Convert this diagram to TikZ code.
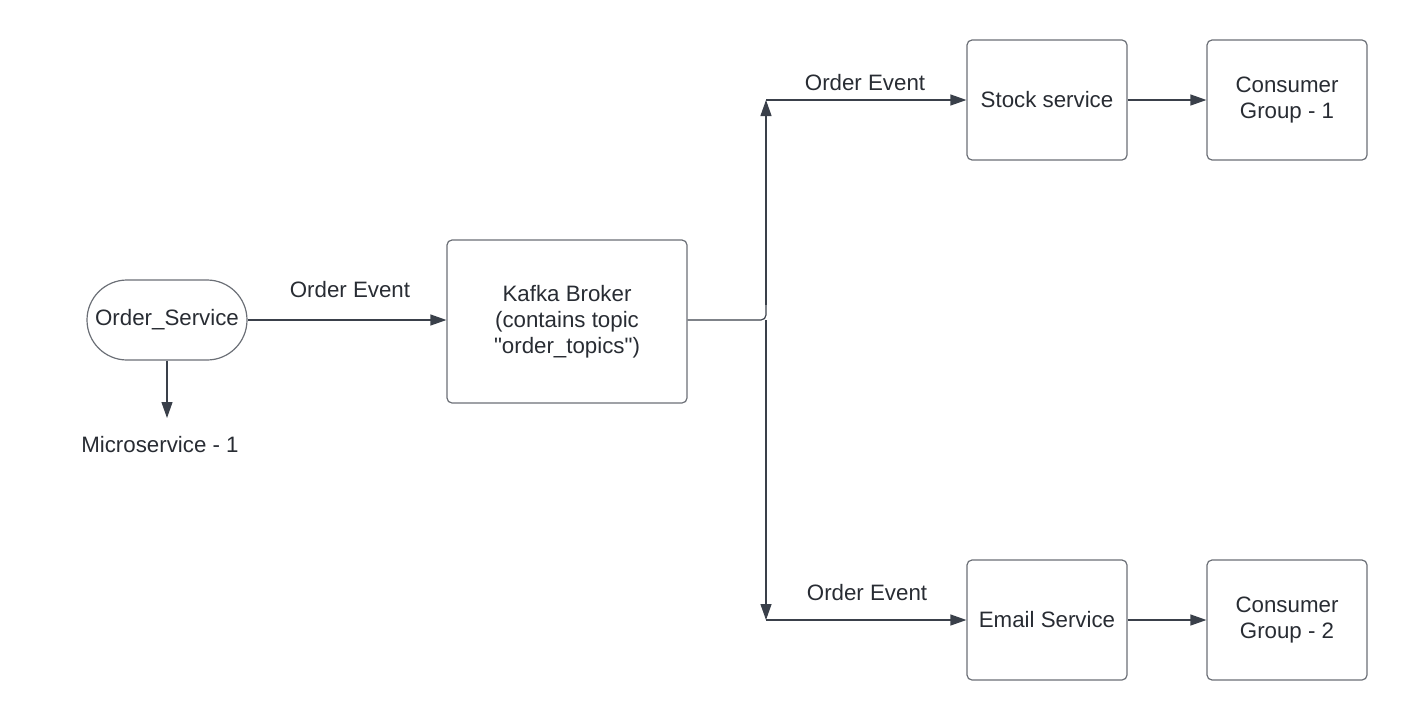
\documentclass[tikz,border=0pt]{standalone}
\usepackage{fontspec}
\setmainfont{Liberation Sans}
\newfontfamily\libfont{Liberation Sans}
\usetikzlibrary{arrows.meta}
\definecolor{txt}{HTML}{282C33}
\definecolor{bord}{HTML}{6B6F76}
\definecolor{wire}{HTML}{3A404A}
\tikzset{
  box/.style={draw=bord, line width=1.2pt, rounded corners=5pt, minimum width=160pt, minimum height=120pt, inner sep=0pt, align=center, text=txt, font=\libfont\fontsize{22.3}{26}\selectfont},
  pill/.style={box, rounded corners=40pt, minimum height=80pt},
  lbl/.style={text=txt, font=\libfont\fontsize{22.3}{26}\selectfont, inner sep=0pt},
  conn/.style={draw=wire, line width=1.2pt, -{Triangle[length=16pt,width=11pt]}},
  wireline/.style={draw=wire, line width=1.2pt}
}
\begin{document}
\begin{tikzpicture}[x=1pt,y=-1pt]
\useasboundingbox (0,0) rectangle (1407,720);
\node[pill] (os) at (167,320) {Order\_Service};
\node[box, minimum width=240pt, minimum height=163pt] (kb) at (567,321.5) {Kafka Broker\\(contains topic\\"order\_topics")};
\node[box] (ss) at (1047,100) {Stock service};
\node[box] (cg1) at (1287,100) {Consumer\\Group - 1};
\node[box] (es) at (1047,620) {Email Service};
\node[box] (cg2) at (1287,620) {Consumer\\Group - 2};
\node[lbl] (ms) at (160,445) {Microservice - 1};
\coordinate (msend) at (167,418);
\coordinate (jn) at (766,320);
\coordinate (up) at (766,100);
\coordinate (dn) at (766,620);
\draw[conn] (os.south) -- (msend);
\draw[conn] (os.east) -- (kb.west |- os.east);
\node[lbl] (l1) at (350,290) {Order Event};
\draw[wireline, rounded corners=5pt] (kb.east |- jn) -- (jn) -- ++(0,-20);
\draw[conn] (766,305) -- (up);
\draw[conn] (up) -- (ss.west);
\node[lbl] (l2) at (865,83) {Order Event};
\draw[conn] (jn) -- (dn);
\draw[conn] (dn) -- (es.west);
\node[lbl] (l3) at (867,593) {Order Event};
\draw[conn] (ss.east) -- (cg1.west);
\draw[conn] (es.east) -- (cg2.west);
\end{tikzpicture}
\end{document}
